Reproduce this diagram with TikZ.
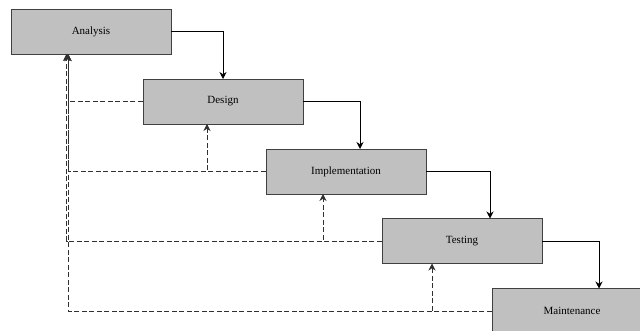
\documentclass[tikz,border=0pt]{standalone}
\usepackage{fontspec}
\setmainfont{Liberation Serif}
\usetikzlibrary{arrows.meta}
\definecolor{boxfill}{HTML}{C0C0C0}
\definecolor{boxline}{HTML}{404040}
\definecolor{dashcol}{HTML}{303030}
\begin{document}
\begin{tikzpicture}[x=1pt,y=-1pt,
  stage/.style={draw=boxline, line width=0.9pt, fill=boxfill, minimum width=160pt, minimum height=45pt, inner sep=0pt, font=\fontsize{11}{13}\selectfont},
  flow/.style={draw=black, line width=0.8pt, -{Stealth[length=7pt,width=7pt]}},
  back/.style={draw=dashcol, line width=0.8pt, dash pattern=on 5pt off 2.5pt, -{Stealth[length=7pt,width=7pt]}}]
\clip (0,0) rectangle (640,331);
\fill[white] (0,0) rectangle (640,331);
\node[stage] (A) at (91,31.5) {Analysis};
\node[stage] (D) at (223,101.5) {Design};
\node[stage] (I) at (346,171.5) {Implementation};
\node[stage] (T) at (462,241) {Testing};
\node[stage] (M) at (572,311) {Maintenance};
% forward arrows
\coordinate (aD) at (223,79);
\coordinate (aI) at (360,149);
\coordinate (aT) at (490,218.5);
\coordinate (aM) at (599,288.5);
\draw[flow] (A.east) -| (aD);
\draw[flow] (D.east) -| (aI);
\draw[flow] (I.east) -| (aT);
\draw[flow] (T.east) -| (aM);
% feedback arrows to previous stage
\coordinate (bD) at (207,124);
\coordinate (bI) at (323,194);
\coordinate (bT) at (432,263.5);
\draw[back] (I.west) -| (bD);
\draw[back] (T.west) -| (bI);
\draw[back] (M.west) -| (bT);
% feedback arrows to analysis
\coordinate (bA) at (68,54);
\coordinate (bA2) at (66.5,54);
\draw[back] (D.west) -| (bA);
\draw[back] (I.west) -| (bA);
\draw[back] (T.west) -| (bA2);
\draw[back] (M.west) -| (bA);
\end{tikzpicture}
\end{document}
